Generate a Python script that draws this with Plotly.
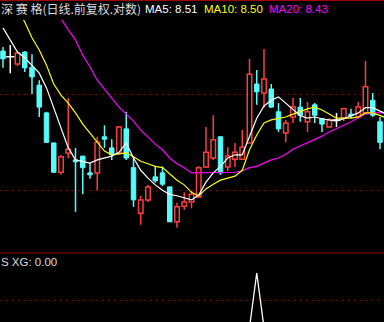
import plotly.graph_objects as go

stock_name = "深 赛 格(日线.前复权.对数)"
ma_labels = ["MA5: 8.51", "MA10: 8.50", "MA20: 8.43"]
sub_label = "S XG: 0.00"

open_ = [9.71, 9.60, 9.46, 9.69, 9.40, 9.07, 8.58, 8.08, 7.62, 7.92,
         7.81, 7.87, 7.61, 7.61, 8.18, 8.00, 7.92, 8.31, 7.69, 7.02,
         7.21, 7.55, 7.61, 7.40, 6.90, 7.12, 7.18, 7.25, 7.70, 7.84,
         8.18, 7.70, 7.82, 7.82, 8.08, 9.09, 8.93, 9.00, 8.60, 8.24,
         8.51, 8.68, 8.43, 8.72, 8.48, 8.34, 8.46, 8.49, 8.56, 8.51,
         8.58, 8.80, 8.43, 7.97]
high = [9.79, 9.83, 9.69, 9.71, 9.65, 9.16, 8.60, 8.08, 7.89, 8.84,
        8.00, 7.87, 7.76, 8.18, 8.37, 8.14, 8.36, 8.60, 7.86, 7.27,
        7.43, 7.71, 7.71, 7.40, 7.17, 7.32, 7.34, 7.71, 8.34, 8.54,
        8.19, 8.01, 8.08, 8.29, 9.56, 9.35, 9.75, 9.09, 8.75, 8.46,
        8.84, 8.84, 8.77, 8.75, 8.49, 8.49, 8.58, 8.67, 8.65, 8.77,
        9.52, 8.93, 8.51, 8.13]
low = [9.39, 9.29, 9.42, 9.31, 8.91, 8.51, 8.08, 7.61, 7.58, 7.84,
       7.04, 7.29, 7.52, 7.35, 8.00, 7.81, 7.89, 7.81, 7.11, 6.86,
       7.18, 7.46, 7.41, 6.90, 6.82, 7.07, 7.09, 7.24, 7.69, 7.81,
       7.58, 7.64, 7.70, 7.81, 8.08, 8.72, 8.67, 8.67, 8.26, 8.09,
       8.41, 8.43, 8.26, 8.41, 8.26, 8.33, 8.34, 8.44, 8.49, 8.49,
       8.56, 8.51, 7.98, 7.93]
close = [9.56, 9.60, 9.67, 9.39, 9.22, 8.68, 8.09, 7.62, 7.86, 7.98,
         7.78, 7.69, 7.58, 8.09, 8.14, 7.89, 8.34, 7.84, 7.21, 7.21,
         7.40, 7.49, 7.44, 6.90, 7.11, 7.18, 7.29, 7.69, 7.93, 8.13,
         7.61, 7.87, 7.93, 8.01, 9.27, 8.95, 9.18, 8.68, 8.31, 8.41,
         8.68, 8.54, 8.60, 8.54, 8.39, 8.46, 8.46, 8.65, 8.53, 8.68,
         9.04, 8.54, 8.09, 8.06]

ma5 = [10.17, 9.93, 9.69, 9.58, 9.44, 9.29, 9.02, 8.67, 8.33, 8.00,
       7.81, 7.78, 7.76, 7.81, 7.84, 7.87, 7.93, 8.08, 7.84, 7.65,
       7.53, 7.43, 7.35, 7.29, 7.27, 7.24, 7.21, 7.28, 7.47, 7.61,
       7.71, 7.84, 7.89, 7.89, 8.18, 8.49, 8.70, 8.80, 8.86, 8.75,
       8.63, 8.53, 8.49, 8.51, 8.48, 8.46, 8.44, 8.48, 8.53, 8.58,
       8.67, 8.67, 8.61, 8.56]
ma10 = [11.15, 10.86, 10.56, 10.29, 9.97, 9.73, 9.44, 9.09, 8.89, 8.75,
        8.58, 8.39, 8.24, 8.09, 7.95, 7.89, 7.90, 7.92, 7.86, 7.79,
        7.75, 7.71, 7.69, 7.59, 7.50, 7.43, 7.32, 7.27, 7.37, 7.44,
        7.50, 7.53, 7.56, 7.65, 7.97, 8.21, 8.41, 8.46, 8.49, 8.51,
        8.56, 8.61, 8.65, 8.68, 8.63, 8.56, 8.49, 8.49, 8.49, 8.51,
        8.58, 8.58, 8.54, 8.49]
ma20 = [12.37, 12.13, 11.84, 11.58, 11.33, 11.08, 10.82, 10.58, 10.35, 10.13,
        9.93, 9.63, 9.41, 9.16, 9.00, 8.84, 8.68, 8.56, 8.44, 8.29,
        8.18, 8.06, 7.97, 7.84, 7.75, 7.69, 7.61, 7.61, 7.61, 7.61,
        7.61, 7.61, 7.62, 7.64, 7.69, 7.71, 7.76, 7.81, 7.84, 7.90,
        7.98, 8.03, 8.08, 8.14, 8.19, 8.26, 8.31, 8.37, 8.43, 8.49,
        8.56, 8.58, 8.58, 8.58]
xg = [0, 0, 0, 0, 0, 0, 0, 0, 0, 0,
      0, 0, 0, 0, 0, 0, 0, 0, 0, 0,
      0, 0, 0, 0, 0, 0, 0, 0, 0, 0,
      0, 0, 0, 0, 0, 1, 0, 0, 0, 0,
      0, 0, 0, 0, 0, 0, 0, 0, 0, 0,
      0, 0, 0, 0]

grid_levels = [7.35, 8.91]
sub_grid_levels = [0.5]

RED = "#FF3C3C"
CYAN = "#54FCFC"
WHITE = "#FFFFFF"
YELLOW = "#FFFF00"
MAGENTA = "#FF00FF"
GRID = "#A00000"
SEP = "#A00000"

idx = list(range(len(open_)))

fig = go.Figure()

groups = {RED: [], CYAN: [], WHITE: []}
for i, o, h, l, c in zip(idx, open_, high, low, close):
    col = RED if c > o else (CYAN if c < o else WHITE)
    groups[col].append((i, o, h, l, c))

# wicks (upper and lower segments, so hollow bodies stay empty)
for col, items in groups.items():
    wx, wy = [], []
    for i, o, h, l, c in items:
        top, bot = max(o, c), min(o, c)
        if h > top:
            wx += [i, i, None]; wy += [h, top, None]
        if l < bot:
            wx += [i, i, None]; wy += [bot, l, None]
    fig.add_trace(go.Scatter(x=wx, y=wy, mode="lines",
                             line=dict(color=col, width=1.5),
                             hoverinfo="skip", xaxis="x", yaxis="y"))

# up bodies: hollow red
r = groups[RED]
fig.add_trace(go.Bar(x=[t[0] for t in r], base=[t[1] for t in r],
                     y=[t[4] - t[1] for t in r], width=0.62,
                     marker=dict(color="black", line=dict(color=RED, width=1.5)),
                     hoverinfo="skip", xaxis="x", yaxis="y"))
# down bodies: filled cyan
cy = groups[CYAN]
fig.add_trace(go.Bar(x=[t[0] for t in cy], base=[t[4] for t in cy],
                     y=[t[1] - t[4] for t in cy], width=0.62,
                     marker=dict(color=CYAN, line=dict(color=CYAN, width=1)),
                     hoverinfo="skip", xaxis="x", yaxis="y"))
# doji bodies
w = groups[WHITE]
fig.add_trace(go.Scatter(x=[t[0] for t in w], y=[t[4] for t in w], mode="markers",
                         marker=dict(symbol="line-ew", size=6,
                                     line=dict(color=WHITE, width=1.5)),
                         hoverinfo="skip", xaxis="x", yaxis="y"))

for vals, col in ((ma20, MAGENTA), (ma10, YELLOW), (ma5, WHITE)):
    fig.add_trace(go.Scatter(x=idx, y=vals, mode="lines",
                             line=dict(color=col, width=1.2),
                             hoverinfo="skip", xaxis="x", yaxis="y"))

fig.add_trace(go.Scatter(x=idx, y=xg, mode="lines",
                         line=dict(color=WHITE, width=1.3),
                         hoverinfo="skip", xaxis="x2", yaxis="y2"))

H = 322.0
xr = [-0.4138, 52.552]
axis_common = dict(showticklabels=False, ticks="", showline=False,
                   zeroline=False)
fig.update_layout(
    width=384, height=322,
    margin=dict(l=0, r=0, t=0, b=0, pad=0),
    paper_bgcolor="black", plot_bgcolor="black",
    showlegend=False, barmode="overlay", hovermode=False,
    xaxis=dict(range=xr, showgrid=False, domain=[0, 1], anchor="y", **axis_common),
    xaxis2=dict(range=xr, showgrid=False, domain=[0, 1], anchor="y2",
                matches="x", **axis_common),
    yaxis=dict(type="log", range=[0.811798, 1.014183],
               domain=[69 / H, 302 / H], anchor="x",
               tickvals=grid_levels, showgrid=True, gridcolor=GRID,
               griddash="1px,5px", gridwidth=1, **axis_common),
    yaxis2=dict(range=[0.103, 1.366], domain=[0, 69 / H], anchor="x2",
                tickvals=sub_grid_levels, showgrid=True, gridcolor=GRID,
                griddash="1px,5px", gridwidth=1, **axis_common),
    shapes=[
        dict(type="line", xref="paper", yref="paper", x0=0, x1=1,
             y0=69 / H, y1=69 / H, line=dict(color=SEP, width=1)),
        dict(type="line", xref="paper", yref="paper", x0=0, x1=1,
             y0=1 - 0.5 / H, y1=1 - 0.5 / H, line=dict(color=SEP, width=1)),
    ],
)

lat_font = "Liberation Sans, Arial, sans-serif"
ann = [
    dict(text=stock_name, x=0, y=1 - 8.5 / H, color="#DCDCDC",
         family="Noto Sans CJK SC", size=12),
    dict(text=ma_labels[0], x=144 / 384, y=1 - 8.5 / H, color=WHITE,
         family=lat_font, size=11.5),
    dict(text=ma_labels[1], x=203 / 384, y=1 - 8.5 / H, color=YELLOW,
         family=lat_font, size=11.5),
    dict(text=ma_labels[2], x=268 / 384, y=1 - 8.5 / H, color=MAGENTA,
         family=lat_font, size=11.5),
    dict(text=sub_label, x=0, y=1 - 261.5 / H, color="#DCDCDC",
         family=lat_font, size=11.5),
]
for a in ann:
    fig.add_annotation(text=a["text"], x=a["x"], y=a["y"], xref="paper",
                       yref="paper", xanchor="left", yanchor="middle",
                       showarrow=False, borderpad=0,
                       font=dict(color=a["color"], family=a["family"], size=a["size"]))

fig.write_html("out.html", config={"displayModeBar": False})
